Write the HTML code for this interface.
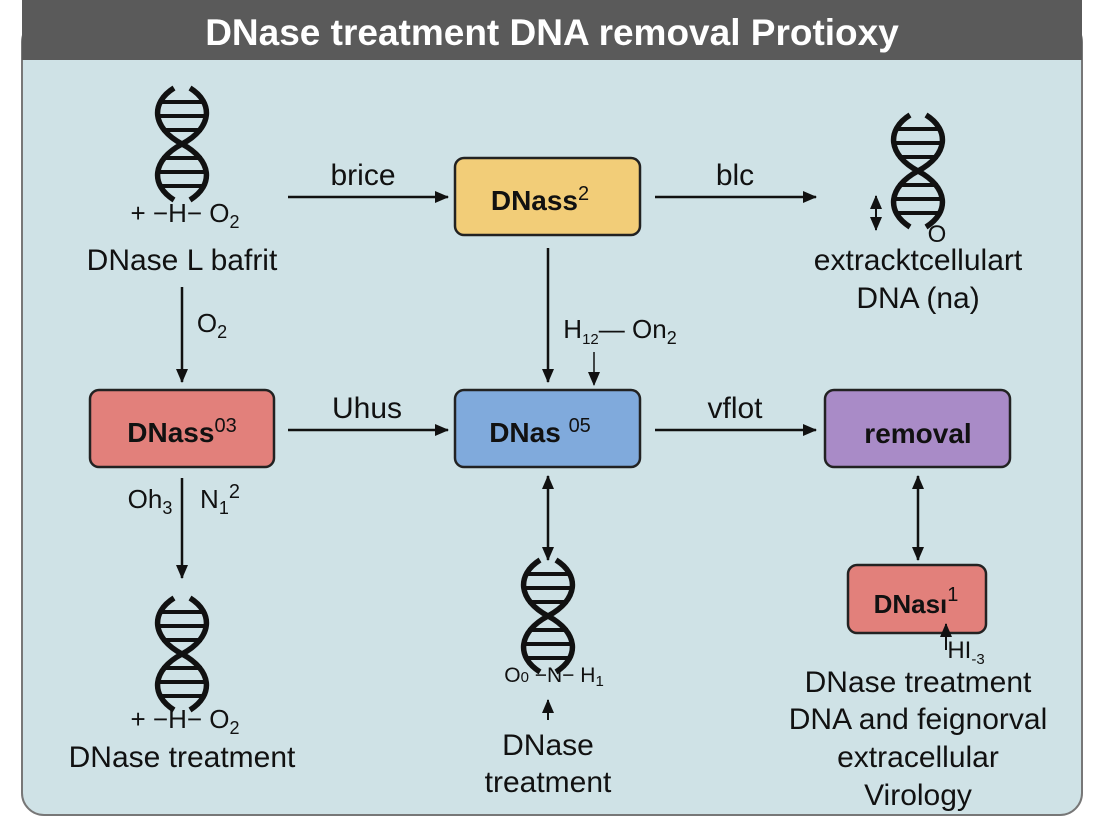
<!DOCTYPE html>
<html><head><meta charset="utf-8"><style>
html,body{margin:0;padding:0;background:#fff;}
svg{display:block;font-family:"Liberation Sans",sans-serif;}
</style></head><body>
<svg width="1104" height="832" viewBox="0 0 1104 832" xmlns="http://www.w3.org/2000/svg">
<defs>
<marker id="ah" markerWidth="14" markerHeight="12" refX="13" refY="6" orient="auto-start-reverse" markerUnits="userSpaceOnUse">
<path d="M0,0 L14,6 L0,12 z" fill="#111"/>
</marker>
<g id="helix" fill="none" stroke="#111" stroke-width="5.5">
<path d="M-8,0 C-32,15 -30,40 0,56 C30,72 32,97 8,112"/>
<path d="M8,0 C32,15 30,40 0,56 C-30,72 -32,97 -8,112"/>
<g stroke-width="4">
<line x1="-22" y1="14" x2="22" y2="14"/>
<line x1="-26" y1="28" x2="26" y2="28"/>
<line x1="-20" y1="42" x2="20" y2="42"/>
<line x1="-20" y1="70" x2="20" y2="70"/>
<line x1="-26" y1="84" x2="26" y2="84"/>
<line x1="-22" y1="98" x2="22" y2="98"/>
</g>
</g>
</defs>
<rect x="0" y="0" width="1104" height="832" fill="#fff"/>
<rect x="22" y="20" width="1060" height="795" rx="22" fill="#cfe2e6" stroke="#777" stroke-width="2"/>
<rect x="22" y="0" width="1060" height="60" fill="#5a5a5a"/>
<text x="552" y="45" font-size="37" font-weight="bold" fill="#fff" text-anchor="middle">DNase treatment DNA removal Protioxy</text>

<g font-size="30" fill="#111" text-anchor="middle">
<use href="#helix" x="182" y="88"/>
<text x="185" y="222" font-size="26">+ −H− O<tspan font-size="18" dy="6">2</tspan></text>
<text x="182" y="270">DNase L bafrit</text>

<use href="#helix" x="918" y="115"/>
<text x="937" y="242" font-size="24">O</text>
<line x1="876" y1="196" x2="876" y2="230" stroke="#111" stroke-width="2" marker-start="url(#ah)" marker-end="url(#ah)"/>
<text x="918" y="270">extracktcellulart</text>
<text x="918" y="308">DNA (na)</text>

<use href="#helix" x="182" y="598"/>
<text x="185" y="728" font-size="26">+ −H− O<tspan font-size="18" dy="6">2</tspan></text>
<text x="182" y="767">DNase treatment</text>

<use href="#helix" x="548" y="560"/>
<text x="554" y="682" font-size="21">O<tspan font-size="15">0</tspan> −N− H<tspan font-size="15" dy="4">1</tspan></text>
<line x1="548" y1="720" x2="548" y2="700" stroke="#111" stroke-width="2" marker-end="url(#ah)"/>
<text x="548" y="755">DNase</text>
<text x="548" y="792">treatment</text>

<text x="918" y="692">DNase treatment</text>
<text x="918" y="729">DNA and feignorval</text>
<text x="918" y="767">extracellular</text>
<text x="918" y="805">Virology</text>
</g>

<g stroke="#222" stroke-width="2.5">
<rect x="455" y="158" width="185" height="77" rx="9" fill="#f2cd78"/>
<rect x="90" y="390" width="184" height="77" rx="9" fill="#e2807b"/>
<rect x="455" y="390" width="185" height="77" rx="9" fill="#80aadc"/>
<rect x="825" y="390" width="185" height="77" rx="9" fill="#a98bc7"/>
<rect x="848" y="565" width="138" height="68" rx="9" fill="#e2807b"/>
</g>
<g font-weight="bold" font-size="28" fill="#111" text-anchor="middle">
<text x="540" y="210">DNass<tspan font-size="20" font-weight="normal" dy="-10">2</tspan></text>
<text x="182" y="442">DNass<tspan font-size="20" font-weight="normal" dy="-10">03</tspan></text>
<text x="540" y="442">DNas <tspan font-size="20" font-weight="normal" dy="-10">05</tspan></text>
<text x="918" y="443">removal</text>
<text x="916" y="613" font-size="26">DNası<tspan font-size="20" font-weight="normal" dy="-12">1</tspan></text>
</g>

<g stroke="#111" stroke-width="2.5" fill="none">
<line x1="288" y1="197" x2="448" y2="197" marker-end="url(#ah)"/>
<line x1="655" y1="197" x2="816" y2="197" marker-end="url(#ah)"/>
<line x1="548" y1="248" x2="548" y2="382" marker-end="url(#ah)"/>
<line x1="594" y1="352" x2="594" y2="385" stroke-width="1.5" marker-end="url(#ah)"/>
<line x1="182" y1="287" x2="182" y2="382" marker-end="url(#ah)"/>
<line x1="288" y1="430" x2="448" y2="430" marker-end="url(#ah)"/>
<line x1="655" y1="430" x2="816" y2="430" marker-end="url(#ah)"/>
<line x1="182" y1="478" x2="182" y2="578" marker-end="url(#ah)"/>
<line x1="548" y1="476" x2="548" y2="560" marker-start="url(#ah)" marker-end="url(#ah)"/>
<line x1="918" y1="476" x2="918" y2="560" marker-start="url(#ah)" marker-end="url(#ah)"/>
<line x1="946" y1="650" x2="946" y2="624" stroke-width="2" marker-end="url(#ah)"/>
</g>
<g font-size="30" fill="#111" text-anchor="middle">
<text x="363" y="185">brice</text>
<text x="735" y="185">blc</text>
<text x="367" y="418">Uhus</text>
<text x="735" y="418">vflot</text>
<text x="212" y="332" font-size="26">O<tspan font-size="18" dy="6">2</tspan></text>
<text x="150" y="508" font-size="26">Oh<tspan font-size="18" dy="6">3</tspan></text>
<text x="220" y="508" font-size="26">N<tspan font-size="18" dy="6">1</tspan><tspan font-size="20" dy="-16">2</tspan></text>
<text x="620" y="338" font-size="26">H<tspan font-size="15" dy="6">12</tspan><tspan dy="-6">— On</tspan><tspan font-size="18" dy="6">2</tspan></text>
<text x="966" y="658" font-size="24">HI<tspan font-size="15" dy="6">-3</tspan></text>
</g>
</svg>
</body></html>
